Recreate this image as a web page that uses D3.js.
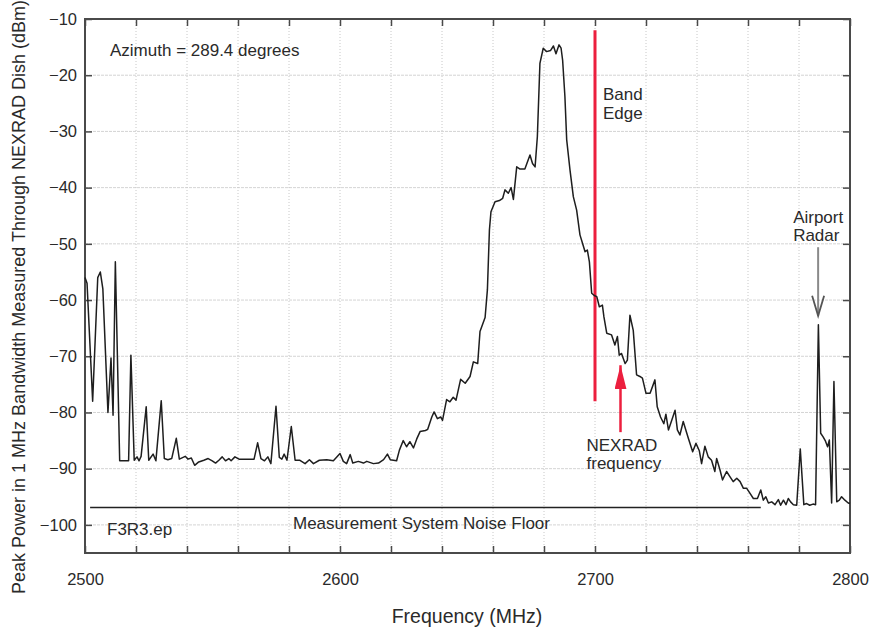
<!DOCTYPE html>
<html>
<head>
<meta charset="utf-8">
<script src="https://cdn.jsdelivr.net/npm/d3@7"></script>
<style>
  html, body { margin: 0; padding: 0; background: #fff; }
  svg text { font-family: "Liberation Sans", Arial, Helvetica, sans-serif; fill: #2a2a2a; }
</style>
</head>
<body>
<svg id="chart" width="869" height="631"></svg>
<script>
// spectrum trace (MHz, dBm)
const freqMHz = [
  2500, 2500.8, 2503, 2505, 2506, 2507, 2509, 2510.2, 2511, 2511.9,
  2513.6, 2517.1, 2518, 2519.3, 2520.4, 2521.2, 2522, 2524, 2525, 2526.7,
  2527.8, 2529.9, 2531.1, 2532.5, 2534, 2535.8, 2537, 2539.3, 2540.4, 2541.7,
  2543, 2544.6, 2546.6, 2548.3, 2549.9, 2551.2, 2552.5, 2553.8, 2555.1, 2556.4,
  2557.3, 2558.8, 2560.4, 2563, 2566.3, 2567.7, 2569, 2570.4, 2571.7, 2572.9,
  2574.9, 2576.2, 2577.2, 2578.1, 2579.2, 2580.9, 2582.4, 2584.3, 2586.3, 2588,
  2589.6, 2591.9, 2594.8, 2597.4, 2600, 2601.3, 2602.6, 2604, 2605, 2607.2,
  2609.2, 2610.5, 2613.1, 2615.1, 2617.1, 2618.6, 2619.7, 2622.2, 2623.3, 2624.8,
  2626.1, 2627.4, 2628.8, 2630.1, 2631.4, 2633.5, 2634.4, 2636, 2636.9, 2638.2,
  2639.5, 2640.2, 2641.8, 2643.1, 2644.4, 2645.5, 2647.3, 2649.1, 2651, 2652.3,
  2654, 2654.9, 2656.9, 2657.8, 2658.6, 2659.2, 2660.8, 2662.5, 2663.8, 2664.7,
  2666, 2667.1, 2668, 2669.3, 2670.6, 2672.5, 2674.5, 2675.5, 2676.5, 2677.4,
  2678.4, 2679.7, 2681, 2682.6, 2683.7, 2684.7, 2685.9, 2686.7, 2687.3, 2688.2,
  2688.9, 2690.2, 2691.5, 2692.8, 2694.1, 2695.1, 2696.1, 2697, 2697.8, 2698.7,
  2699.7, 2700.7, 2701.7, 2702.9, 2703.5, 2704.6, 2706.5, 2707.8, 2708.8, 2709.5,
  2710.4, 2711.8, 2712.7, 2713.7, 2715, 2716.3, 2717.6, 2718.6, 2720, 2721.6,
  2723.5, 2724.4, 2725.7, 2727, 2727.8, 2728.8, 2730.1, 2731.4, 2732.3, 2733.3,
  2734.6, 2736.6, 2738.3, 2739.6, 2740.9, 2741.8, 2743.1, 2744.4, 2745.7, 2747,
  2747.7, 2749, 2750, 2751.6, 2752.9, 2754.2, 2755.6, 2756.9, 2758.2, 2759.5,
  2760.8, 2762.1, 2763.7, 2765, 2766, 2767, 2768, 2769.3, 2770.6, 2771.9,
  2772.8, 2773.9, 2774.9, 2775.8, 2776.7, 2777.8, 2779.1, 2780.5, 2781.9, 2783,
  2784.2, 2785.5, 2786.5, 2787.6, 2788.5, 2789.4, 2790.4, 2791.2, 2791.9, 2792.8,
  2793.7, 2794.8, 2795.8, 2796.7, 2798, 2799.3, 2800
];
const powerDbm = [
  -56, -57, -78, -56, -55, -58, -80, -70.3, -80.5, -53.2,
  -88.6, -88.6, -69.8, -88.5, -87.9, -88.6, -87.8, -79, -88.5, -87.4,
  -88.6, -77.9, -88.2, -88.4, -88.2, -84.6, -88.3, -87.8, -88.3, -88.1,
  -89.4, -88.8, -88.5, -88.2, -88.6, -89, -88.5, -87.9, -88.6, -88.2,
  -88.6, -87.9, -88.3, -88.3, -88.3, -85.4, -88.2, -88.6, -87.9, -89.1,
  -78.9, -88, -88.3, -87.4, -88.5, -82.5, -88.5, -88.5, -89.1, -88.4,
  -89.1, -88.5, -88.4, -88.6, -87.3, -88.7, -89.1, -87.5, -89, -88.7,
  -89, -88.7, -89.1, -89, -88.4, -87.4, -88.4, -88.6, -86.7, -85,
  -86.1, -85.2, -86.3, -84.7, -83.4, -83.2, -83, -80.8, -79.9, -81.1,
  -80.8, -81.4, -77.7, -78.1, -77.3, -77.8, -74.1, -74.8, -73.6, -71,
  -71.3, -65.6, -63.1, -58.2, -47.5, -44.3, -42.5, -42.3, -41.9, -40.4,
  -41, -40, -42.1, -36.3, -36.7, -36.7, -34.2, -35.7, -36.3, -30.9,
  -17.9, -15.2, -15.8, -15.6, -14.8, -16.2, -14.6, -15.2, -17.3, -23.8,
  -31.5, -36.9, -41.6, -44, -48.4, -49.9, -51.4, -51.1, -53.2, -58.8,
  -59.2, -59.4, -61.2, -60.9, -63, -65.9, -66.2, -68, -66.5, -69.8,
  -69.5, -71.3, -70.7, -62.7, -65.4, -73.3, -73.6, -73.9, -76.6, -76.6,
  -74.2, -79, -80.8, -82, -80.3, -83.1, -81.4, -79.6, -83.1, -84,
  -81.6, -84.6, -87, -85.5, -86.8, -89.1, -86, -87.9, -88.5, -90.5,
  -88.2, -90.2, -92, -90.5, -91.4, -92.3, -91.7, -92.3, -93.5, -93.5,
  -94.4, -95.3, -95.3, -93.8, -95.6, -95, -96.1, -95.9, -96.4, -95.5,
  -96.5, -95.6, -96.4, -95.3, -95.9, -96.4, -96.5, -86.5, -96.4, -96.2,
  -96.5, -96.3, -96.4, -64.4, -83.7, -84.3, -85.1, -86.1, -84.9, -96.1,
  -74.5, -95.9, -95.6, -95, -95.6, -96.1, -96.2
];

// axes
const xDomain = [2500, 2800];
const yDomain = [-105, -10];
const xTickValues = d3.range(2500, 2801, 20);
const xLabelValues = [2500, 2600, 2700, 2800];
const yTickValues = d3.range(-100, -9, 10);

// annotations (data units)
const bandEdgeMHz = 2700, bandEdgeTop = -12, bandEdgeBottom = -78;
const nexradMHz = 2710, nexradTip = -71.6, nexradTail = -83.5;
const airportMHz = 2787.5, airportTail = -50.6, airportTip = -62.8;
const noiseFloorDbm = -96.9, noiseFloorFrom = 2502, noiseFloorTo = 2765;

const width = 869, height = 631;
const margin = {top: 19, right: 19, bottom: 78, left: 85};
const innerW = width - margin.left - margin.right;
const innerH = height - margin.top - margin.bottom;

const svg = d3.select('#chart');
const defs = svg.append('defs');
defs.append('marker')
  .attr('id', 'redHead')
  .attr('viewBox', '0 -6 24 12')
  .attr('refX', 24).attr('refY', 0)
  .attr('markerUnits', 'userSpaceOnUse')
  .attr('markerWidth', 24).attr('markerHeight', 12)
  .attr('orient', 'auto')
  .append('path')
  .attr('d', 'M0,-6L24,0L0,6Z')
  .attr('fill', '#ec1f3e');

const g = svg.append('g').attr('transform', `translate(${margin.left},${margin.top})`);

const x = d3.scaleLinear().domain(xDomain).range([0, innerW]);
const y = d3.scaleLinear().domain(yDomain).range([innerH, 0]);

// grid
g.append('g')
  .selectAll('line')
  .data(yTickValues.filter(v => v > yDomain[0] && v < yDomain[1]))
  .join('line')
  .attr('x1', 0).attr('x2', innerW)
  .attr('y1', d => y(d)).attr('y2', d => y(d))
  .attr('stroke', '#d4d4d4')
  .attr('stroke-width', 1)
  .attr('stroke-dasharray', '3,1');

g.append('g')
  .selectAll('line')
  .data(xTickValues.filter(v => v > xDomain[0] && v < xDomain[1]))
  .join('line')
  .attr('x1', d => x(d)).attr('x2', d => x(d))
  .attr('y1', 0).attr('y2', innerH)
  .attr('stroke', '#c8c8c8')
  .attr('stroke-width', 1)
  .attr('stroke-dasharray', '1,2');

// axes (ticks point inward)
const styleAxis = sel => {
  sel.select('.domain').remove();
  sel.selectAll('.tick line').attr('stroke', '#4a4a4a').attr('stroke-width', 1.5);
  sel.selectAll('.tick text').attr('font-size', '16.5px').attr('fill', '#2a2a2a');
};

g.append('g')
  .attr('transform', `translate(0,${innerH})`)
  .call(d3.axisBottom(x).tickValues(xTickValues).tickSizeInner(-7).tickSizeOuter(0).tickPadding(20)
    .tickFormat(d => xLabelValues.includes(d) ? d : ''))
  .call(styleAxis);

g.append('g')
  .call(d3.axisTop(x).tickValues(xTickValues).tickSizeInner(-7).tickSizeOuter(0).tickFormat(''))
  .call(styleAxis);

g.append('g')
  .call(d3.axisLeft(y).tickValues(yTickValues).tickSizeInner(-7).tickSizeOuter(0).tickPadding(8))
  .call(styleAxis);

g.append('g')
  .attr('transform', `translate(${innerW},0)`)
  .call(d3.axisRight(y).tickValues(yTickValues).tickSizeInner(-7).tickSizeOuter(0).tickFormat(''))
  .call(styleAxis);

// frame
g.append('rect')
  .attr('width', innerW).attr('height', innerH)
  .attr('fill', 'none')
  .attr('stroke', '#4a4a4a')
  .attr('stroke-width', 2);

// noise floor line
g.append('line')
  .attr('x1', x(noiseFloorFrom)).attr('x2', x(noiseFloorTo))
  .attr('y1', y(noiseFloorDbm)).attr('y2', y(noiseFloorDbm))
  .attr('stroke', '#222').attr('stroke-width', 1.4);

// band edge
g.append('line')
  .attr('x1', x(bandEdgeMHz)).attr('x2', x(bandEdgeMHz))
  .attr('y1', y(bandEdgeTop)).attr('y2', y(bandEdgeBottom))
  .attr('stroke', '#ec1f3e').attr('stroke-width', 3);

// trace
const points = freqMHz.map((f, i) => [f, powerDbm[i]]);
const line = d3.line().x(d => x(d[0])).y(d => y(d[1]));
g.append('path')
  .datum(points)
  .attr('d', line)
  .attr('fill', 'none')
  .attr('stroke', '#1e1e1e')
  .attr('stroke-width', 1.5)
  .attr('stroke-linejoin', 'round');

// NEXRAD frequency arrow
g.append('line')
  .attr('x1', x(nexradMHz)).attr('x2', x(nexradMHz))
  .attr('y1', y(nexradTail)).attr('y2', y(nexradTip))
  .attr('stroke', '#ec1f3e').attr('stroke-width', 2.5)
  .attr('marker-end', 'url(#redHead)');

// Airport radar arrow
const ax = x(airportMHz), aTip = y(airportTip);
g.append('line')
  .attr('x1', ax).attr('x2', ax)
  .attr('y1', y(airportTail)).attr('y2', aTip)
  .attr('stroke', '#8a8a8a').attr('stroke-width', 2);
g.append('path')
  .attr('d', `M${ax - 6},${aTip - 20}L${ax},${aTip}L${ax + 6},${aTip - 20}`)
  .attr('fill', 'none')
  .attr('stroke', '#555').attr('stroke-width', 1.8);

// annotation text
const note = (px, py, txt, anchor = 'start') => g.append('text')
  .attr('x', px).attr('y', py)
  .attr('text-anchor', anchor)
  .attr('font-size', '17px')
  .text(txt);

note(25, 37, 'Azimuth = 289.4 degrees');
note(x(bandEdgeMHz) + 8, 81, 'Band');
note(x(bandEdgeMHz) + 8, 99.5, 'Edge');
note(x(nexradMHz) - 34, 431.5, 'NEXRAD');
note(x(nexradMHz) - 34, 449.5, 'frequency');
note(ax - 25, 203.5, 'Airport');
note(ax - 25, 222, 'Radar');
note(208, 509.5, 'Measurement System Noise Floor');
note(22, 515.5, 'F3R3.ep');

// axis titles
svg.append('text')
  .attr('x', 467).attr('y', 623)
  .attr('text-anchor', 'middle')
  .attr('font-size', '19.5px')
  .text('Frequency (MHz)');

svg.append('text')
  .attr('transform', 'translate(25,297) rotate(-90)')
  .attr('text-anchor', 'middle')
  .attr('font-size', '18px')
  .text('Peak Power in 1 MHz Bandwidth Measured Through NEXRAD Dish (dBm)');
</script>
</body>
</html>
